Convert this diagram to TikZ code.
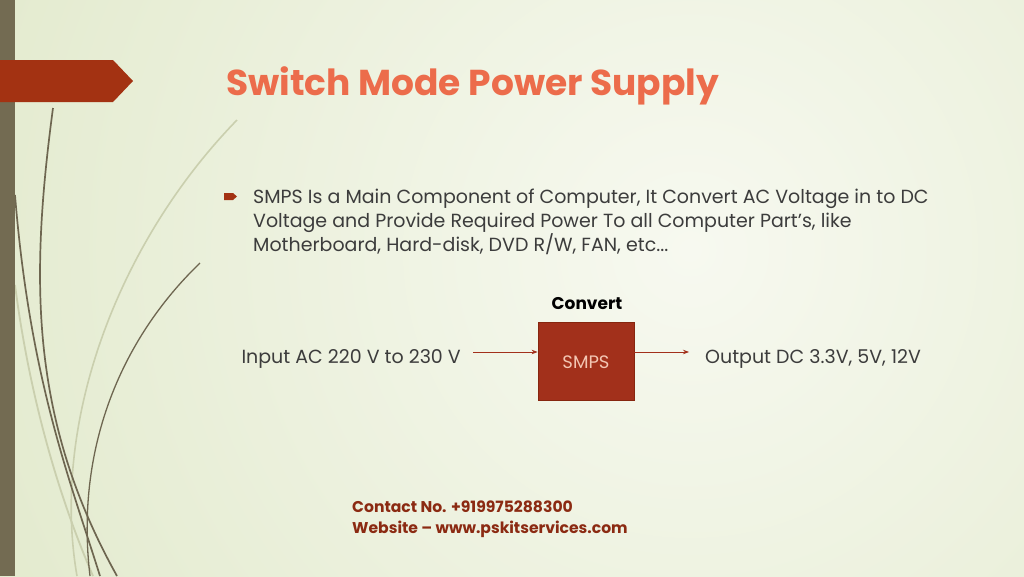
\documentclass[tikz,border=0pt]{standalone}
\usepackage{fontspec}
\setmainfont{Poppins}
\usetikzlibrary{positioning,arrows.meta}

\definecolor{bgin}{HTML}{F7F9F0}
\definecolor{bgout}{HTML}{D9E3BD}
\definecolor{barbrown}{HTML}{736B52}
\definecolor{tagred}{HTML}{A33212}
\definecolor{titlecoral}{HTML}{EC6C4B}
\definecolor{bodygray}{HTML}{3C3C3C}
\definecolor{boxred}{HTML}{A2301B}
\definecolor{boxedge}{HTML}{86260F}
\definecolor{boxtext}{HTML}{F3C6B3}
\definecolor{contactred}{HTML}{8B2A12}
\definecolor{stemdark}{HTML}{6E6650}
\definecolor{stemlight}{HTML}{CACFAE}

\tikzset{
  bodytext/.style={inner sep=0pt, text=bodygray, font=\fontsize{19}{24}\selectfont},
  contact/.style={inner sep=0pt, text=contactred, font=\fontsize{15.6}{22}\selectfont\bfseries},
  flow/.style={boxred, line width=0.8pt, -{Stealth[length=6pt,width=4.5pt]}}
}

\begin{document}
\begin{tikzpicture}[x=1pt, y=-1pt]

	% Background with soft gradient
	\useasboundingbox (0,0) rectangle (1024,576);
	\begin{scope}
		\clip (0,0) rectangle (1024,576);
		\fill[bgout] (0,0) rectangle (1024,576);
		\shade[inner color=bgin, outer color=bgout] (690,250) circle (1150);
	\end{scope}

	% Grass stems on the left
	\draw[stemlight, line width=1.6pt] (237,120) .. controls (120,240) and (50,420) .. (77,576);
	\draw[stemlight, line width=1.8pt] (15,285) .. controls (30,400) and (60,500) .. (93,576);
	\draw[stemdark, line width=1.7pt] (15,195) .. controls (30,380) and (70,480) .. (100,576);
	\draw[stemdark, line width=1.7pt] (53,108) .. controls (30,280) and (30,420) .. (117,576);
	\draw[stemdark, line width=1.3pt] (200,263) .. controls (120,340) and (75,450) .. (90,576);

	% Left bar and title tag
	\fill[barbrown] (0,0) rectangle (15,576);
	\fill[tagred] (0,60) -- (113,60) -- (133,81) -- (113,102) -- (0,102) -- cycle;

	% Title
	\node[anchor=base west, inner sep=0pt, text=titlecoral, font=\fontsize{36}{44}\selectfont\bfseries] (title) at (226,95) {Switch Mode Power Supply};

	% Bullet and its text
	\fill[tagred] (224,193) -- (233,193) -- (237,196.5) -- (233,200) -- (224,200) -- cycle;
	\node[bodytext, anchor=base west] (line1) at (253,203) {SMPS Is a Main Component of Computer, It Convert AC Voltage in to DC};
	\node[bodytext, anchor=base west] (line2) at (253,227) {Voltage and Provide Required Power To all Computer Part’s, like};
	\node[bodytext, anchor=base west] (line3) at (253,251) {Motherboard, Hard-disk, DVD R/W, FAN, etc...};

	% Block diagram
	\node[draw=boxedge, fill=boxred, line width=0.8pt, minimum width=96pt, minimum height=78pt, inner sep=0pt] (smps) at (586,361) {};
	\node[anchor=base, inner sep=0pt, text=boxtext, font=\fontsize{18}{22}\selectfont] (smpslabel) at (586,368) {SMPS};
	\node[anchor=base, inner sep=0pt, font=\fontsize{17}{20}\selectfont\bfseries] (convert) at (587,309) {Convert};
	\node[bodytext, anchor=base east] (input) at (461,363) {Input AC 220 V to 230 V};
	\node[bodytext, anchor=base west] (output) at (705,363) {Output DC 3.3V, 5V, 12V};

	\coordinate (inarrow) at (473,352);
	\coordinate (outarrow) at (689,352);
	\draw[flow] (inarrow) -- (inarrow -| smps.west);
	\draw[flow] (outarrow -| smps.east) -- (outarrow);

	% Contact
	\node[contact, anchor=base west] (phone) at (352,512) {Contact No. +919975288300};
	\node[contact, anchor=base west] (web) at (352,533) {Website – www.pskitservices.com};

\end{tikzpicture}
\end{document}
